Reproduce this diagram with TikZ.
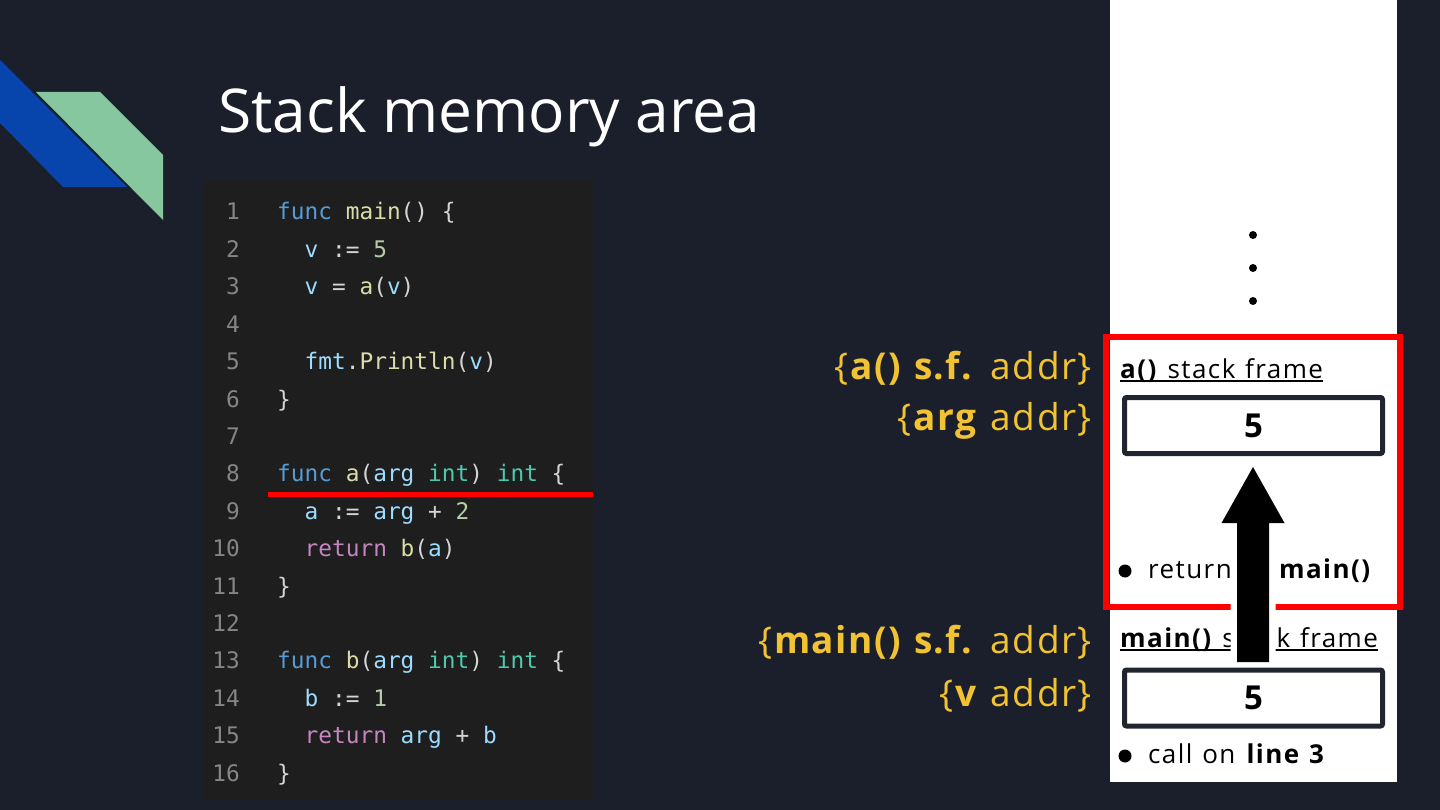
\documentclass[tikz,border=0pt]{standalone}
\usepackage{fontspec}
\setmainfont{Open Sans}
\newfontfamily\labelfont{Open Sans}[LetterSpace=4,WordSpace=1.2]
\newfontfamily\stackfont{Open Sans}[LetterSpace=5.5,WordSpace=1.2]
\newfontfamily\codefont{DejaVu Sans Mono}[WordSpace={1,0,0}]
\usetikzlibrary{calc}
\definecolor{bg}{RGB}{27,31,43}
\definecolor{panel}{RGB}{30,30,30}
\definecolor{kw}{RGB}{86,156,214}
\definecolor{fn}{RGB}{220,220,170}
\definecolor{var}{RGB}{156,220,254}
\definecolor{num}{RGB}{181,206,168}
\definecolor{typ}{RGB}{78,201,176}
\definecolor{ctl}{RGB}{197,134,192}
\definecolor{pun}{RGB}{212,212,212}
\definecolor{lnumc}{RGB}{133,133,133}
\definecolor{decoblue}{RGB}{7,68,172}
\definecolor{decogreen}{RGB}{134,199,160}
\definecolor{addrc}{RGB}{241,194,50}
\definecolor{boxline}{RGB}{33,37,48}
\definecolor{redf}{RGB}{255,0,0}
\newcommand\cKw[1]{\textcolor{kw}{#1}}
\newcommand\cFn[1]{\textcolor{fn}{#1}}
\newcommand\cVar[1]{\textcolor{var}{#1}}
\newcommand\cNum[1]{\textcolor{num}{#1}}
\newcommand\cTyp[1]{\textcolor{typ}{#1}}
\newcommand\cCtl[1]{\textcolor{ctl}{#1}}
\tikzset{
  codeline/.style={anchor=base west, inner sep=0, text=pun, font=\codefont\fontsize{22.8}{27}\selectfont},
  lnumline/.style={anchor=base east, inner sep=0, text=lnumc, font=\codefont\fontsize{22.8}{27}\selectfont},
  addrlabel/.style={anchor=base east, inner sep=0, text=addrc, font=\labelfont\fontsize{37}{42}\selectfont},
  frametitle/.style={anchor=base west, inner sep=0, text=black, font=\stackfont\fontsize{26}{30}\selectfont},
  bullettext/.style={anchor=base west, inner sep=0, text=black, font=\stackfont\fontsize{26}{30}\selectfont},
  bulletdot/.style={circle, fill=black, inner sep=0, minimum size=13},
  valbox/.style={draw=boxline, line width=5, rounded corners=2, fill=white, minimum width=258, minimum height=56, inner sep=0, font=\bfseries\fontsize{33}{36}\selectfont},
  stackdot/.style={circle, fill=black, inner sep=0, minimum size=8},
}
\begin{document}
\begin{tikzpicture}[x=1pt,y=-1pt]
\useasboundingbox (0,0) rectangle (1440,810);
\fill[bg] (0,0) rectangle (1440,810);
% decoration
\fill[decoblue] (0,60) -- (127,187) -- (63,187) -- (0,123) -- cycle;
\fill[decogreen] (36,92) -- (100,92) -- (163,155) -- (163,220) -- cycle;
% title
\node[anchor=base west, inner sep=0, text=white, font=\fontsize{60.4}{66}\selectfont] (title) at (218,133) {Stack memory area};
% code panel
\node[fill=panel, inner sep=0, minimum width=390, minimum height=620, anchor=north west] (panel) at (203,180) {};
\foreach \i in {1,...,16} \node[lnumline] (ln\i) at (240,{220+(\i-1)*37.4}) {\i};
\node[codeline] (c1) at (277,220) {\cKw{func} \cFn{main}() \{};
\node[codeline] (c2) at (277,257.4) {\ \ \cVar{v} := \cNum{5}};
\node[codeline] (c3) at (277,294.8) {\ \ \cVar{v} = \cFn{a}(\cVar{v})};
\node[codeline] (c5) at (277,369.6) {\ \ \cVar{fmt}.\cFn{Println}(\cVar{v})};
\node[codeline] (c6) at (277,407) {\}};
\node[codeline] (c8) at (277,481.8) {\cKw{func} \cFn{a}(\cVar{arg} \cTyp{int}) \cTyp{int} \{};
\node[codeline] (c9) at (277,519.2) {\ \ \cVar{a} := \cVar{arg} + \cNum{2}};
\node[codeline] (c10) at (277,556.6) {\ \ \cCtl{return} \cFn{b}(\cVar{a})};
\node[codeline] (c11) at (277,594) {\}};
\node[codeline] (c13) at (277,668.8) {\cKw{func} \cFn{b}(\cVar{arg} \cTyp{int}) \cTyp{int} \{};
\node[codeline] (c14) at (277,706.2) {\ \ \cVar{b} := \cNum{1}};
\node[codeline] (c15) at (277,743.6) {\ \ \cCtl{return} \cVar{arg} + \cVar{b}};
\node[codeline] (c16) at (277,781) {\}};
\coordinate (ulA) at (268,494.5);
\coordinate (ulB) at (593,494.5);
\draw[redf, line width=5] (ulA) -- (ulB);
% address labels
\node[addrlabel] (l1) at (1092,379) {\{\textbf{a() s.f.} addr\}};
\node[addrlabel] (l2) at (1092,430) {\{\textbf{arg} addr\}};
\node[addrlabel] (l3) at (1092,653) {\{\textbf{main() s.f.} addr\}};
\node[addrlabel] (l4) at (1092,706) {\{\textbf{v} addr\}};
% stack column
\node[fill=white, inner sep=0, minimum width=287, minimum height=782, anchor=north west] (column) at (1110,0) {};
\node[stackdot] (d1) at (1253,235) {};
\node[stackdot] (d2) at (1253,268) {};
\node[stackdot] (d3) at (1253,301) {};
% a() frame
\node[frametitle] (ft1) at (1120,378) {\textbf{a()} stack frame};
\draw[line width=2] ([yshift=-3pt]ft1.base west) -- ([yshift=-3pt]ft1.base east);
\node[valbox] (v1) at (1253.5,425.5) {\raisebox{-3pt}{5}};
\node[bulletdot] (b1) at (1125,571) {};
\node[bullettext] (bt1) at (1148,578) {return to \textbf{main()}};
\node[draw=redf, line width=6, inner sep=0, minimum width=294, minimum height=270] (aframe) at (1253,471.5) {};
% main() frame
\node[frametitle] (ft2) at (1120,647) {\textbf{main()} stack frame};
\draw[line width=2] ([yshift=-3pt]ft2.base west) -- ([yshift=-3pt]ft2.base east);
\node[bulletdot] (b2) at (1125,756) {};
\node[bullettext] (bt2) at (1148,763) {call on \textbf{line 3}};
% arrow
\coordinate (arrfrom) at (1253,662);
\coordinate (arrto) at (1253,467);
\draw[white, line width=13, line join=round] (arrto) -- ($(arrto)+(31.5,56)$) -- ($(arrto)+(16,56)$) -- ($(arrfrom)+(16,0)$) -- ($(arrfrom)+(-16,0)$) -- ($(arrto)+(-16,56)$) -- ($(arrto)+(-31.5,56)$) -- cycle;
\fill[black] (arrto) -- ($(arrto)+(31.5,56)$) -- ($(arrto)+(16,56)$) -- ($(arrfrom)+(16,0)$) -- ($(arrfrom)+(-16,0)$) -- ($(arrto)+(-16,56)$) -- ($(arrto)+(-31.5,56)$) -- cycle;
\node[valbox] (v2) at (1253.5,698) {5};
\end{tikzpicture}
\end{document}
